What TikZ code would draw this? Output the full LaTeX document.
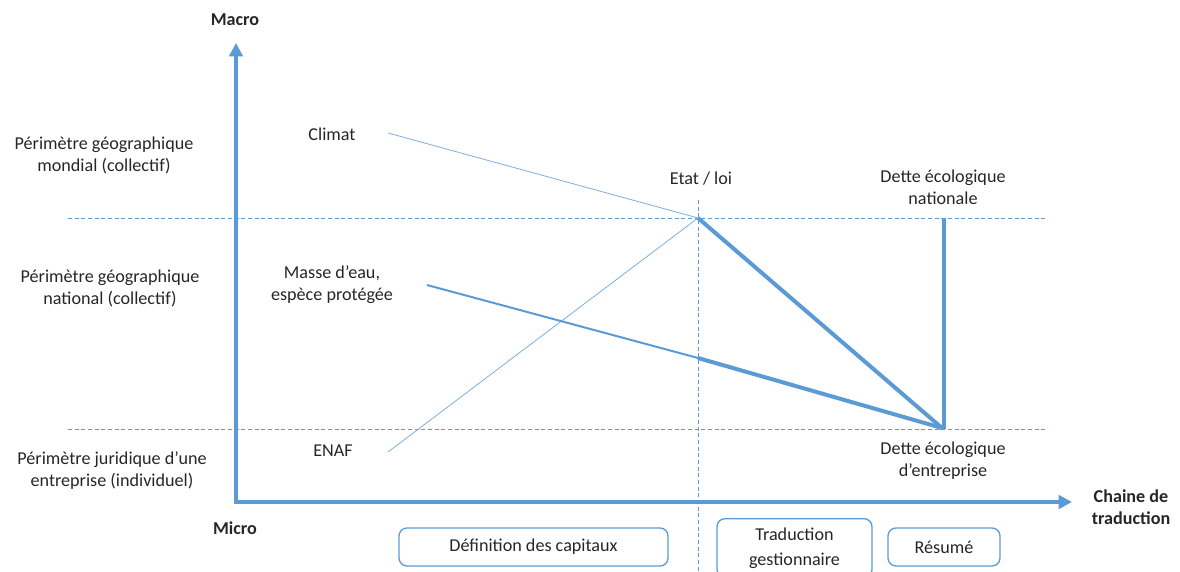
\documentclass[tikz,border=0pt]{standalone}
\usepackage{fontspec}
\setmainfont{Carlito}
\usetikzlibrary{arrows.meta}
\definecolor{axisblue}{HTML}{5B9BD5}
\definecolor{txt}{HTML}{262626}
\begin{document}
\begin{tikzpicture}[x=0.75pt,y=-0.75pt,
  lbl/.style={font=\fontsize{13.6}{16.5}\selectfont, text=txt, align=center, inner sep=0pt},
  blbl/.style={lbl, font=\fontsize{13.6}{16.5}\selectfont\bfseries},
  axis/.style={draw=axisblue, line width=3pt, -{Triangle[length=10pt,width=10pt]}},
  grid/.style={draw=axisblue, dashed, line width=0.6pt, dash pattern=on 3pt off 2pt},
  thinl/.style={draw=axisblue!80, line width=0.6pt},
  medl/.style={draw=axisblue, line width=1.5pt},
  thickl/.style={draw=axisblue, line width=3pt},
  phase/.style={lbl, draw=axisblue, rounded corners=6pt, line width=1pt, minimum height=28.5pt}
]
\useasboundingbox (0,0) rectangle (1180,571);
% coordinates
\coordinate (origin) at (236,502);
\coordinate (ytip) at (236,43);
\coordinate (xtip) at (1072,502);
\coordinate (h1a) at (68,218); \coordinate (h1b) at (1046,218);
\coordinate (h2a) at (68,429); \coordinate (h2b) at (1046,429);
\coordinate (va) at (698,200); \coordinate (vb) at (698,571);
\coordinate (etat) at (698,218);
\coordinate (bottom) at (942,428);
\coordinate (nat) at (944,218);
\coordinate (natb) at (944,429);
\coordinate (clim) at (388,133);
\coordinate (enaf) at (388,452);
\coordinate (masse) at (427,285);
\coordinate (mid) at (698,358);
% grid
\draw[grid] (h1a) -- (h1b);
\draw[grid] (h2a) -- (h2b);
\draw[grid] (va) -- (vb);
% axes
\draw[axis] ([yshift=-1.5pt]origin) -- (ytip);
\draw[axis] ([xshift=-1.5pt]origin) -- (xtip);
% lines
\draw[thinl] (clim) -- (etat);
\draw[thinl] (enaf) -- (etat);
\draw[medl] (masse) -- (mid);
\draw[thickl] (mid) -- (bottom);
\draw[thickl] (etat) -- (bottom);
\draw[thickl] (nat) -- (natb);
% labels
\node[blbl] (macro) at (235,20) {Macro};
\node[blbl] (micro) at (235,528) {Micro};
\node[blbl] (chaine) at (1131,507) {Chaine de\\traduction};
\node[lbl] (mondial) at (104,155) {Périmètre géographique\\mondial (collectif)};
\node[lbl] (national) at (110,288) {Périmètre géographique\\national (collectif)};
\node[lbl] (juridique) at (112,471) {Périmètre juridique d’une\\entreprise (individuel)};
\node[lbl] (climat) at (332,134) {Climat};
\node[lbl] (massel) at (332,285) {Masse d’eau,\\espèce protégée};
\node[lbl] (enafl) at (333,451) {ENAF};
\node[lbl] (etatl) at (701,179) {Etat / loi};
\node[lbl] (detten) at (943,187) {Dette écologique\\nationale};
\node[lbl] (dettee) at (943,461) {Dette écologique\\d’entreprise};
% phase boxes
\node[phase, minimum width=201.75pt] (def) at (533.5,547) {Définition des capitaux};
\node[phase, minimum width=116.25pt, minimum height=44pt, font=\fontsize{13.6}{19}\selectfont] (trad) at (794.5,548) {Traduction\\gestionnaire};
\node[phase, minimum width=84pt] (res) at (944,547) {Résumé};
\end{tikzpicture}
\end{document}
